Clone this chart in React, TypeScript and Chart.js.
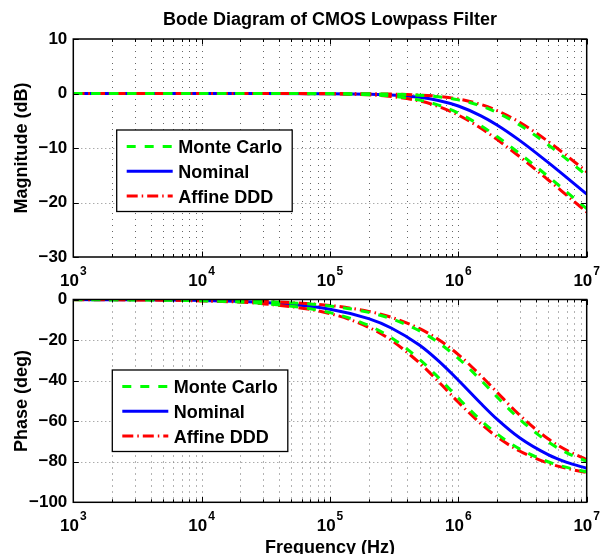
import React, { useEffect, useRef } from 'react';
import { Chart, registerables } from 'chart.js';

Chart.register(...registerables);

// ---------------- data ----------------
const freqHz = [1e3, 3e3, 1e4, 3e4, 1e5, 2e5, 3e5, 5e5, 7e5, 1e6, 1.5e6, 2e6, 3e6, 5e6, 7e6, 1e7];

const magNominal = [0, 0, 0, 0, -0.03, -0.12, -0.26, -0.7, -1.27, -2.29, -4.09, -5.77, -8.6, -12.64, -15.44, -18.48];
const magMonteCarloUpper = [0, 0, 0, 0, -0.01, -0.05, -0.12, -0.32, -0.61, -1.17, -2.29, -3.49, -5.77, -9.4, -12.07, -15.03];
const magMonteCarloLower = [0, 0, 0, -0.01, -0.06, -0.22, -0.48, -1.22, -2.13, -3.6, -5.92, -7.9, -11.01, -15.22, -18.08, -21.14];
const magAffineUpper = [0, 0, 0, 0, -0.01, -0.05, -0.1, -0.28, -0.53, -1.01, -2.02, -3.12, -5.27, -8.79, -11.43, -14.36];
const magAffineLower = [0, 0, 0, -0.01, -0.06, -0.25, -0.55, -1.37, -2.38, -3.96, -6.38, -8.42, -11.58, -15.82, -18.69, -21.75];

const phaseNominal = [-0.05, -0.14, -0.48, -1.43, -4.76, -9.46, -14.04, -22.6, -30.3, -39.8, -51.3, -59.0, -68.2, -76.5, -80.3, -83.2];
const phaseMonteCarloUpper = [-0.03, -0.1, -0.32, -0.95, -3.18, -6.34, -9.46, -15.5, -21.25, -29.05, -39.8, -48.0, -59.0, -70.2, -75.6, -79.8];
const phaseMonteCarloLower = [-0.07, -0.2, -0.65, -1.95, -6.48, -12.8, -18.8, -29.6, -38.5, -48.65, -59.6, -66.25, -73.65, -80.0, -82.8, -84.97];
const phaseAffineUpper = [-0.03, -0.09, -0.29, -0.88, -2.94, -5.86, -8.75, -14.4, -19.75, -27.15, -37.6, -45.7, -56.98, -68.7, -74.4, -78.97];
const phaseAffineLower = [-0.07, -0.21, -0.7, -2.1, -6.95, -13.7, -20.1, -31.4, -40.5, -50.65, -61.3, -67.7, -74.7, -80.7, -83.3, -85.3];

const magTicks = [10, 0, -10, -20, -30];
const phaseTicks = [0, -20, -40, -60, -80, -100];
const xDecadeExponents = [3, 4, 5, 6, 7];
const xMinorMultiples = [2, 3, 4, 5, 6, 7, 8, 9];

const seriesLabels = ['Monte Carlo', 'Nominal', 'Affine DDD'];
const titleText = 'Bode Diagram of CMOS Lowpass Filter';
const magLabel = 'Magnitude (dB)';
const phaseLabel = 'Phase (deg)';
const freqLabel = 'Frequency (Hz)';

// ---------------- styles ----------------
const FONT = '"Liberation Sans", Arial, Helvetica, sans-serif';
const GREEN = '#00ff00';
const BLUE = '#0000ff';
const RED = '#ff0000';
const GREEN_DASH = [9, 9];
const RED_DASH = [11, 4, 1.5, 4];
const LINE_W = 3;

const legendStyles = [
  { color: GREEN, dash: GREEN_DASH },
  { color: BLUE, dash: [] as number[] },
  { color: RED, dash: RED_DASH },
];

function pts(arr: number[]) {
  return freqHz.map((f, i) => ({ x: f, y: arr[i] }));
}

function makeDatasets(nom: number[], mcU: number[], mcL: number[], afU: number[], afL: number[]) {
  const base = { pointRadius: 0, borderWidth: LINE_W, fill: false, cubicInterpolationMode: 'monotone' as const, borderCapStyle: 'butt' as const };
  return [
    { ...base, label: seriesLabels[0], data: pts(mcU), borderColor: GREEN, borderDash: GREEN_DASH, order: 0 },
    { ...base, label: seriesLabels[0], data: pts(mcL), borderColor: GREEN, borderDash: GREEN_DASH, order: 0 },
    { ...base, label: seriesLabels[2], data: pts(afU), borderColor: RED, borderDash: RED_DASH, order: 1 },
    { ...base, label: seriesLabels[2], data: pts(afL), borderColor: RED, borderDash: RED_DASH, order: 1 },
    { ...base, label: seriesLabels[1], data: pts(nom), borderColor: BLUE, borderDash: [], order: 2 },
  ];
}

type PanelCfg = {
  id: string;
  title?: string;
  yLabel: string;
  xLabel?: string;
  xLabelBaseline?: number;
  legendX: number;
  legendY: number;
};

function makePlugin(cfg: PanelCfg) {
  return {
    id: cfg.id,
    beforeDatasetsDraw(chart: any) {
      const { ctx, chartArea: a } = chart;
      const x = chart.scales.x;
      const y = chart.scales.y;
      ctx.save();
      // vertical grid (major + minor decades)
      ctx.lineWidth = 1;
      ctx.strokeStyle = '#666';
      ctx.setLineDash([1, 5]);
      for (let d = 0; d < xDecadeExponents.length; d++) {
        const e = xDecadeExponents[d];
        const vals: number[] = [];
        if (d > 0 && d < xDecadeExponents.length - 1) vals.push(Math.pow(10, e));
        if (d < xDecadeExponents.length - 1) xMinorMultiples.forEach((m) => vals.push(m * Math.pow(10, e)));
        for (const v of vals) {
          const px = Math.round(x.getPixelForValue(v)) + 0.5;
          ctx.beginPath();
          ctx.moveTo(px, a.top);
          ctx.lineTo(px, a.bottom);
          ctx.stroke();
        }
      }
      // horizontal grid at major y ticks
      ctx.strokeStyle = '#888';
      ctx.setLineDash([1, 3]);
      for (const t of y.ticks) {
        const py = Math.round(y.getPixelForValue(t.value)) + 0.5;
        if (Math.abs(py - a.top) < 2 || Math.abs(py - a.bottom) < 2) continue;
        ctx.beginPath();
        ctx.moveTo(a.left, py);
        ctx.lineTo(a.right, py);
        ctx.stroke();
      }
      ctx.restore();
    },
    afterDatasetsDraw(chart: any) {
      const { ctx, chartArea: a } = chart;
      const x = chart.scales.x;
      const y = chart.scales.y;
      ctx.save();
      ctx.setLineDash([]);
      // inward tick marks
      ctx.strokeStyle = '#000';
      ctx.lineWidth = 1;
      for (let d = 0; d < xDecadeExponents.length; d++) {
        const e = xDecadeExponents[d];
        const items: { v: number; len: number }[] = [{ v: Math.pow(10, e), len: 5.5 }];
        if (d < xDecadeExponents.length - 1) xMinorMultiples.forEach((m) => items.push({ v: m * Math.pow(10, e), len: 3 }));
        for (const it of items) {
          const px = Math.round(x.getPixelForValue(it.v)) + 0.5;
          ctx.beginPath();
          ctx.moveTo(px, a.bottom);
          ctx.lineTo(px, a.bottom - it.len);
          ctx.moveTo(px, a.top);
          ctx.lineTo(px, a.top + it.len);
          ctx.stroke();
        }
      }
      for (const t of y.ticks) {
        const py = Math.round(y.getPixelForValue(t.value)) + 0.5;
        ctx.beginPath();
        ctx.moveTo(a.left, py);
        ctx.lineTo(a.left + 5.5, py);
        ctx.moveTo(a.right, py);
        ctx.lineTo(a.right - 5.5, py);
        ctx.stroke();
      }
      // frame
      ctx.lineWidth = 1.5;
      ctx.strokeRect(a.left, a.top, a.right - a.left, a.bottom - a.top);

      // x tick labels with superscript exponents
      ctx.fillStyle = '#000';
      ctx.textBaseline = 'alphabetic';
      ctx.textAlign = 'left';
      for (const e of xDecadeExponents) {
        const px = x.getPixelForValue(Math.pow(10, e));
        ctx.font = `bold 17px ${FONT}`;
        const w1 = ctx.measureText('10').width;
        ctx.font = `bold 12px ${FONT}`;
        const w2 = ctx.measureText(String(e)).width;
        const total = w1 + 1 + w2;
        const left = px - total / 2;
        ctx.font = `bold 17px ${FONT}`;
        ctx.fillText('10', left, a.bottom + 28.5);
        ctx.font = `bold 12px ${FONT}`;
        ctx.fillText(String(e), left + w1 + 1, a.bottom + 18);
      }

      // titles
      const cx = (a.left + a.right) / 2;
      ctx.font = `bold 18px ${FONT}`;
      ctx.textAlign = 'center';
      if (cfg.title) ctx.fillText(cfg.title, cx, 25);
      if (cfg.xLabel) ctx.fillText(cfg.xLabel, cx, cfg.xLabelBaseline || 0);
      ctx.save();
      ctx.translate(27, (a.top + a.bottom) / 2);
      ctx.rotate(-Math.PI / 2);
      ctx.fillText(cfg.yLabel, 0, 0);
      ctx.restore();

      // legend
      const lx = cfg.legendX;
      const ly = cfg.legendY;
      const lw = 175.5;
      const lh = 81.5;
      ctx.fillStyle = '#fff';
      ctx.fillRect(lx, ly, lw, lh);
      ctx.strokeStyle = '#000';
      ctx.lineWidth = 1.3;
      ctx.strokeRect(lx, ly, lw, lh);
      for (let i = 0; i < seriesLabels.length; i++) {
        const cy = ly + 16.5 + i * 24.8;
        const st = legendStyles[i];
        ctx.strokeStyle = st.color;
        ctx.lineWidth = LINE_W;
        ctx.setLineDash(st.dash);
        ctx.beginPath();
        ctx.moveTo(lx + 10, cy);
        ctx.lineTo(lx + 56, cy);
        ctx.stroke();
        ctx.setLineDash([]);
        ctx.fillStyle = '#000';
        ctx.font = `bold 18px ${FONT}`;
        ctx.textAlign = 'left';
        ctx.fillText(seriesLabels[i], lx + 61.5, cy + 6.5);
      }
      ctx.restore();
    },
  };
}

function makeConfig(datasets: any[], ticks: number[], padTop: number, padBottom: number, plugin: any): any {
  const minV = Math.min(...ticks);
  const maxV = Math.max(...ticks);
  return {
    type: 'line',
    data: { datasets },
    plugins: [plugin],
    options: {
      animation: false,
      responsive: false,
      devicePixelRatio: 1,
      events: [],
      layout: { padding: { left: 0, right: 15.3, top: padTop, bottom: padBottom } },
      plugins: { legend: { display: false }, title: { display: false }, tooltip: { enabled: false } },
      scales: {
        x: { type: 'logarithmic', min: 1e3, max: 1e7, display: false },
        y: {
          type: 'linear',
          min: minV,
          max: maxV,
          afterBuildTicks: (s: any) => {
            s.ticks = ticks.map((v) => ({ value: v }));
          },
          afterFit: (s: any) => {
            s.width = 73.3;
          },
          grid: { display: false, drawTicks: false },
          border: { display: false },
          ticks: {
            color: '#000',
            padding: 6,
            autoSkip: false,
            font: { family: FONT, size: 17, weight: 'bold' },
            callback: (v: any) => String(v).replace('-', '\u2212'),
          },
        },
      },
    },
  };
}

export default function App() {
  const ref1 = useRef<HTMLCanvasElement>(null);
  const ref2 = useRef<HTMLCanvasElement>(null);

  useEffect(() => {
    const c1 = new Chart(
      ref1.current as HTMLCanvasElement,
      makeConfig(
        makeDatasets(magNominal, magMonteCarloUpper, magMonteCarloLower, magAffineUpper, magAffineLower),
        magTicks,
        39,
        300 - 257,
        makePlugin({ id: 'bodeMag', title: titleText, yLabel: magLabel, legendX: 116.7, legendY: 130 })
      )
    );
    const c2 = new Chart(
      ref2.current as HTMLCanvasElement,
      makeConfig(
        makeDatasets(phaseNominal, phaseMonteCarloUpper, phaseMonteCarloLower, phaseAffineUpper, phaseAffineLower),
        phaseTicks,
        29.5,
        284 - 232.3,
        makePlugin({ id: 'bodePhase', yLabel: phaseLabel, xLabel: freqLabel, xLabelBaseline: 283, legendX: 112.3, legendY: 100 })
      )
    );
    return () => {
      c1.destroy();
      c2.destroy();
    };
  }, []);

  return (
    <div style={{ position: 'absolute', left: 0, top: 0, width: 602, height: 554, background: '#fff', overflow: 'hidden' }}>
      <canvas ref={ref1} width={602} height={300} style={{ position: 'absolute', left: 0, top: 0, width: 602, height: 300 }} />
      <canvas ref={ref2} width={602} height={284} style={{ position: 'absolute', left: 0, top: 270, width: 602, height: 284 }} />
    </div>
  );
}
